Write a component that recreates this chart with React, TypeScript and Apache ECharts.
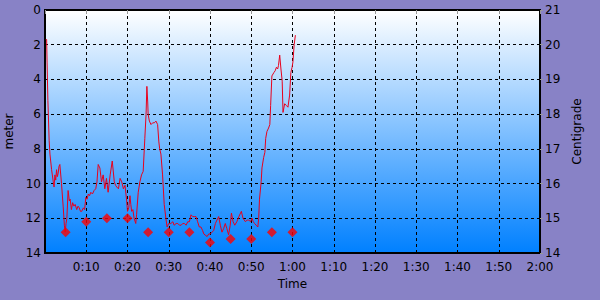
import React, { useEffect, useRef } from "react";
import * as echarts from "echarts";

// Depth profile: time (minutes) and depth (meters)
const depthTimes = [
  0.2, 0.4, 0.5, 0.7, 1.0, 1.2, 1.6, 2.0, 2.2, 2.4, 2.6, 2.8, 3.0, 3.2, 3.4, 3.6, 4.0, 4.4, 4.7, 4.9,
  5.1, 5.3, 5.6, 5.9, 6.1, 6.4, 6.7, 7.0, 7.3, 7.7, 8.0, 8.3, 8.6, 8.9, 9.3, 9.6, 9.9, 10.2, 10.5, 10.8,
  11.1, 11.5, 11.9, 12.3, 12.6, 12.9, 13.3, 13.7, 14.1, 14.5, 14.9, 15.3, 15.8, 16.3, 16.8, 17.1, 17.4, 17.8, 18.2, 18.6,
  19.0, 19.4, 19.8, 20.0, 20.3, 20.6, 20.8, 21.0, 21.3, 21.6, 22.0, 22.2, 22.6, 23.0, 23.4, 23.8, 24.2, 24.5, 24.7, 24.9,
  25.0, 25.3, 25.7, 26.1, 26.5, 26.9, 27.3, 27.6, 27.8, 28.1, 28.5, 28.9, 29.3, 29.6, 30.0, 30.5, 31.0, 31.3, 31.8, 32.2,
  32.6, 33.0, 33.4, 33.8, 34.2, 34.6, 35.0, 35.4, 35.8, 36.2, 36.6, 37.0, 37.4, 37.8, 38.2, 38.5, 39.0, 39.3, 39.7, 40.1,
  40.5, 40.9, 41.3, 41.7, 42.1, 42.5, 42.9, 43.3, 43.7, 44.1, 44.5, 44.9, 45.2, 45.6, 46.0, 46.5, 47.0, 47.6, 48.0, 48.6,
  49.0, 49.4, 49.8, 50.2, 50.5, 50.8, 51.2, 51.6, 51.8, 52.0, 52.4, 52.6, 53.0, 53.3, 53.5, 53.8, 54.2, 54.5, 54.7, 55.0,
  55.5, 55.8, 56.1, 56.4, 56.6, 56.9, 57.2, 57.5, 57.7, 58.1, 58.5, 58.9, 59.3, 59.6, 59.9, 60.1, 60.4, 60.7,
];
const depthValues = [
  1.7, 1.7, 3.0, 5.2, 7.5, 8.3, 9.2, 9.9, 10.2, 9.5, 9.8, 9.2, 9.6, 9.4, 9.0, 8.9, 10.0, 11.3, 12.4, 12.8,
  12.3, 12.0, 10.4, 11.0, 10.9, 11.5, 11.1, 11.3, 11.2, 11.5, 11.3, 11.4, 11.6, 11.6, 11.4, 11.5, 10.8, 10.9, 10.6, 10.7,
  10.5, 10.6, 10.4, 10.3, 9.9, 8.9, 9.1, 9.9, 9.5, 10.3, 9.7, 10.5, 9.5, 8.7, 9.9, 10.1, 10.2, 10.3, 9.7, 9.9,
  10.3, 10.1, 11.0, 11.6, 11.4, 10.7, 11.2, 11.6, 11.5, 12.0, 12.3, 11.8, 10.5, 9.9, 9.5, 9.3, 7.4, 6.0, 4.4, 5.3,
  6.0, 6.4, 6.6, 6.5, 6.5, 6.4, 6.6, 7.6, 8.0, 8.3, 9.5, 11.2, 12.0, 12.5, 12.3, 12.3, 12.2, 12.4, 12.3, 12.3,
  12.4, 12.4, 12.3, 12.3, 12.4, 12.2, 12.2, 11.8, 11.9, 11.9, 11.9, 12.2, 12.5, 12.5, 12.7, 12.9, 13.0, 13.05, 12.9, 12.9,
  12.8, 12.7, 12.3, 12.1, 11.9, 12.4, 12.8, 12.6, 12.3, 12.6, 12.95, 12.4, 11.7, 12.2, 12.4, 12.2, 11.9, 11.6, 12.0, 12.2,
  12.1, 12.1, 12.2, 12.0, 12.2, 12.3, 12.4, 12.5, 12.0, 10.9, 9.9, 9.1, 8.5, 8.2, 7.4, 7.0, 6.8, 6.6, 5.5, 3.8,
  3.6, 3.5, 3.3, 3.4, 3.2, 2.6, 3.4, 4.1, 5.9, 5.4, 5.5, 5.6, 4.9, 3.6, 3.3, 3.0, 2.0, 1.45,
];

// Temperature readings: time (minutes) and degrees Centigrade
const tempTimes = [5, 10, 15, 20, 25, 30, 35, 40, 45, 50, 55, 60];
const tempValues = [14.6, 14.9, 15.0, 15.0, 14.6, 14.6, 14.6, 14.3, 14.4, 14.4, 14.6, 14.6];

// X tick labels (every 10 minutes, 0 .. 120)
const timeLabels = ["", "0:10", "0:20", "0:30", "0:40", "0:50", "1:00", "1:10", "1:20", "1:30", "1:40", "1:50", "2:00"];

export default function App() {
  const ref = useRef<HTMLDivElement>(null);

  useEffect(() => {
    if (!ref.current) return;
    const chart = echarts.init(ref.current, undefined, { renderer: "svg" });
    const font = "DejaVu Sans";
    const labelStyle = { color: "#000", fontFamily: font, fontSize: 12 };
    chart.setOption({
      animation: false,
      backgroundColor: "#8882C6",
      grid: {
        left: 45,
        right: 60,
        top: 10,
        bottom: 47,
        outerBoundsMode: "none",
        containLabel: false,
        show: true,
        borderColor: "#000",
        borderWidth: 2,
        backgroundColor: {
          type: "linear",
          x: 0,
          y: 0,
          x2: 0,
          y2: 1,
          colorStops: [
            { offset: 0, color: "#FFFFFF" },
            { offset: 1, color: "#0080FF" },
          ],
        },
      },
      xAxis: {
        type: "value",
        min: 0,
        max: 120,
        interval: 10,
        name: "Time",
        nameLocation: "middle",
        nameGap: 24,
        nameTextStyle: labelStyle,
        axisLine: { show: false },
        axisTick: { show: true, length: 4, lineStyle: { color: "#999" } },
        axisLabel: {
          ...labelStyle,
          margin: 8,
          formatter: (v: number) => timeLabels[Math.round(v / 10)] ?? "",
        },
        splitLine: { show: true, lineStyle: { color: "#000", type: [3, 3], width: 1 } },
      },
      yAxis: [
        {
          type: "value",
          inverse: true,
          min: 0,
          max: 14,
          interval: 2,
          name: "meter",
          nameLocation: "middle",
          nameGap: 30,
          nameRotate: 90,
          nameTextStyle: labelStyle,
          axisLine: { show: false },
          axisTick: { show: false },
          axisLabel: { ...labelStyle, margin: 4 },
          splitLine: { show: true, lineStyle: { color: "#000", type: [3, 3], width: 1 } },
        },
        {
          type: "value",
          position: "right",
          min: 14,
          max: 21,
          interval: 1,
          name: "Centigrade",
          nameLocation: "middle",
          nameGap: 29,
          nameRotate: 90,
          nameTextStyle: labelStyle,
          axisLine: { show: false },
          axisTick: { show: true, length: 3, lineStyle: { color: "#999" } },
          axisLabel: { ...labelStyle, margin: 5 },
          splitLine: { show: false },
        },
      ],
      series: [
        {
          type: "line",
          yAxisIndex: 0,
          data: depthTimes.map((t, i) => [t, depthValues[i]]),
          showSymbol: false,
          lineStyle: { color: "#E8001C", width: 1 },
          z: 3,
        },
        {
          type: "scatter",
          yAxisIndex: 1,
          data: tempTimes.map((t, i) => [t, tempValues[i]]),
          symbol: "diamond",
          symbolSize: 10,
          itemStyle: { color: "#FF0000" },
          z: 4,
        },
      ],
    });
    return () => chart.dispose();
  }, []);

  return (
    <div
      ref={ref}
      style={{ position: "fixed", left: 0, top: 0, width: 600, height: 300 }}
    />
  );
}
